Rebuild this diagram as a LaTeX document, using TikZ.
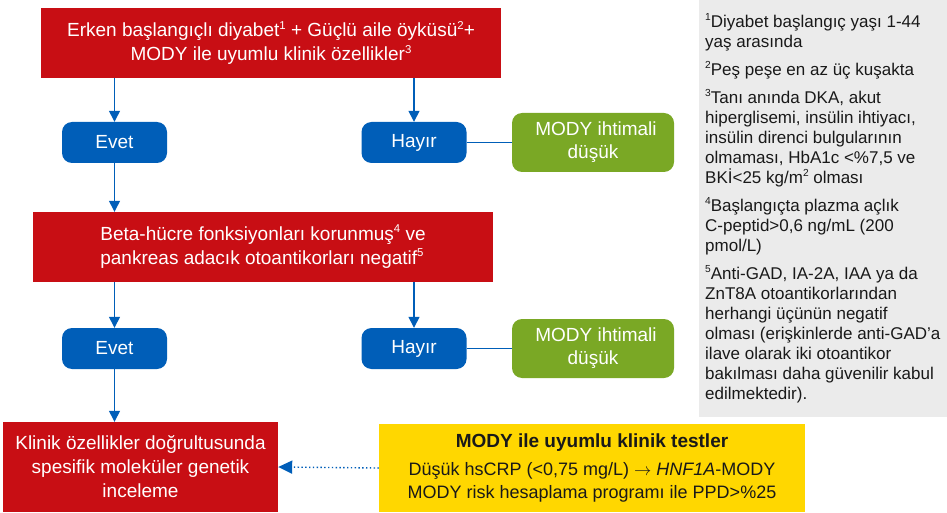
\documentclass[tikz,border=0pt]{standalone}
\usepackage{graphicx}
\usepackage{fontspec}
\setmainfont{Liberation Sans}
\usetikzlibrary{arrows.meta}
\definecolor{cred}{RGB}{200,14,20}
\definecolor{cblue}{RGB}{0,94,184}
\definecolor{cgreen}{RGB}{122,168,37}
\definecolor{cyellow}{RGB}{255,215,0}
\definecolor{cgray}{RGB}{235,235,235}
\definecolor{ctext}{RGB}{25,25,25}
\newcommand\sps[1]{\raisebox{0.42em}{\scalebox{0.6}{#1}}}
\begin{document}
\begin{tikzpicture}[x=1pt,y=-1pt,
  redstep/.style={fill=cred, text=white, inner sep=0pt, align=center, font=\fontsize{19}{24}\selectfont},
  answer/.style={fill=cblue, text=white, inner sep=0pt, rounded corners=10pt, minimum width=105pt, minimum height=41pt, font=\fontsize{19}{23}\selectfont},
  lowbox/.style={fill=cgreen, text=white, inner sep=0pt, rounded corners=10pt, minimum width=162pt, minimum height=59pt, align=center, font=\fontsize{19}{23}\selectfont},
  flow/.style={draw=cblue, line width=1.4pt, -{Triangle[width=11pt,length=11pt]}},
  plainlink/.style={draw=cblue, line width=1.4pt},
  dotflow/.style={draw=cblue, line width=1.4pt, dash pattern=on 1.4pt off 2.4pt, -{Triangle[width=13pt,length=14pt]}},
  notes/.style={text=ctext, inner sep=0pt, align=left, anchor=north west, font=\fontsize{17}{20}\selectfont},
  testbox/.style={fill=cyellow, text=ctext, inner sep=0pt, align=center, minimum width=426pt, minimum height=88pt, font=\fontsize{18}{23}\selectfont}
]
\useasboundingbox (0,0) rectangle (947,513);

% side notes panel
\fill[cgray] (699,0) rectangle (947,417);
\node[notes] (notes) at (705,13) {\sps{1}Diyabet başlangıç yaşı 1-44\\
yaş arasında\\[8pt]
\sps{2}Peş peşe en az üç kuşakta\\[8pt]
\sps{3}Tanı anında DKA, akut\\
hiperglisemi, insülin ihtiyacı,\\
insülin direnci bulgularının\\
olmaması, HbA1c <\%7,5 ve\\
BKİ<25 kg/m\sps{2} olması\\[8pt]
\sps{4}Başlangıçta plazma açlık\\
C-peptid>0,6 ng/mL (200\\
pmol/L)\\[8pt]
\sps{5}Anti-GAD, IA-2A, IAA ya da\\
ZnT8A otoantikorlarından\\
herhangi üçünün negatif\\
olması (erişkinlerde anti-GAD’a\\
ilave olarak iki otoantikor\\
bakılması daha güvenilir kabul\\
edilmektedir).};

% main flow
\node[redstep, minimum width=460pt, minimum height=70pt] (top) at (271,43)
  {Erken başlangıçlı diyabet\sps{1} + Güçlü aile öyküsü\sps{2}+\\MODY ile uyumlu klinik özellikler\sps{3}};
\node[answer] (yes1) at (114.5,142.5) {Evet};
\node[answer] (no1) at (414,142.5) {Hayır};
\node[lowbox] (low1) at (593,142.5) {\hspace*{6pt}MODY ihtimali\\düşük};

\node[redstep, align=left, minimum width=460pt, minimum height=70pt] (beta) at (263,247)
  {Beta-hücre fonksiyonları korunmuş\sps{4} ve\\pankreas adacık otoantikorları negatif\sps{5}};
\node[answer] (yes2) at (114.5,348.5) {Evet};
\node[answer] (no2) at (414,348.5) {Hayır};
\node[lowbox] (low2) at (593,348.5) {\hspace*{6pt}MODY ihtimali\\düşük};

\node[redstep, minimum width=275pt, minimum height=90pt] (gen) at (140.5,467)
  {Klinik özellikler doğrultusunda\\spesifik moleküler genetik\\inceleme};
\node[testbox] (tests) at (592,468)
  {{\fontsize{19}{23}\selectfont\textbf{MODY ile uyumlu klinik testler}}\\[5pt]
   Düşük hsCRP (<0,75 mg/L) $\rightarrow$ \textit{HNF1A}-MODY\\
   MODY risk hesaplama programı ile PPD>\%25};

% connectors
\draw[flow] (yes1 |- top.south) -- (yes1.north);
\draw[flow] (no1 |- top.south) -- (no1.north);
\draw[plainlink] (no1.east) -- (low1.west);
\draw[flow] (yes1.south) -- (yes1 |- beta.north);
\draw[flow] (yes2 |- beta.south) -- (yes2.north);
\draw[flow] (no2 |- beta.south) -- (no2.north);
\draw[plainlink] (no2.east) -- (low2.west);
\draw[flow] (yes2.south) -- (yes2 |- gen.north);
\draw[dotflow] (tests.west) -- (gen.east);
\end{tikzpicture}
\end{document}
